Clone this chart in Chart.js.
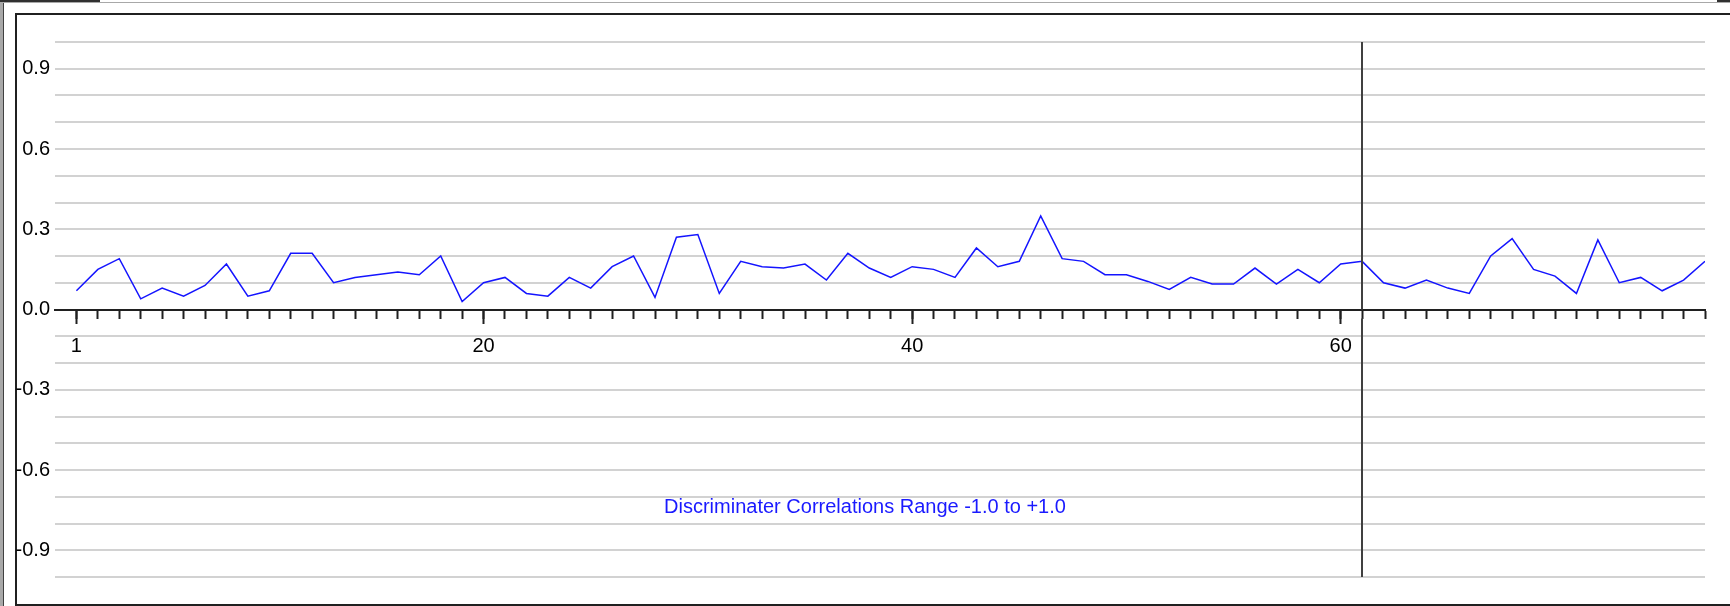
<!DOCTYPE html>
<html lang="en">
<head>
    <meta charset="UTF-8">
    <title>Discriminater Correlations</title>
    <script src="https://cdn.jsdelivr.net/npm/chart.js"></script>
    <style>
        html, body { margin: 0; padding: 0; background: #ffffff; }
        body { width: 1730px; height: 606px; position: relative; overflow: hidden; }
        .edgeLeft { position: absolute; left: 0; top: 0; width: 3px; height: 606px; background: #a8a8a8; border-right: 1px solid #404040; }
        .edgeTop { position: absolute; left: 0; top: 2px; width: 1730px; height: 1px; background: #a8a8a8; }
        .tabTop { position: absolute; left: 0; top: 0; width: 100px; height: 2px; background: #303030; }
        .tabRight { position: absolute; left: 1717px; top: 0; width: 13px; height: 2px; background: #303030; }
        .frame { position: absolute; left: 15px; top: 13px; width: 1715px; height: 589px; border-top: 2px solid #202020; border-left: 2px solid #202020; border-bottom: 2px solid #202020; }
        #chartBox { position: absolute; left: 0; top: 0; width: 1730px; height: 606px; }
    </style>
</head>
<body>
    <div class="edgeLeft"></div>
    <div class="edgeTop"></div>
    <div class="tabTop"></div>
    <div class="tabRight"></div>
    <div class="frame"></div>
    <div id="chartBox">
        <canvas id="corrChart" width="1730" height="606"></canvas>
    </div>

    <script>
        // values, one per position 1..77
        const positions = [
            1, 2, 3, 4, 5, 6, 7, 8, 9, 10, 11, 12, 13, 14, 15, 16, 17, 18, 19, 20,
            21, 22, 23, 24, 25, 26, 27, 28, 29, 30, 31, 32, 33, 34, 35, 36, 37, 38, 39, 40,
            41, 42, 43, 44, 45, 46, 47, 48, 49, 50, 51, 52, 53, 54, 55, 56, 57, 58, 59, 60,
            61, 62, 63, 64, 65, 66, 67, 68, 69, 70, 71, 72, 73, 74, 75, 76, 77
        ];
        const correlations = [
            0.07, 0.15, 0.19, 0.04, 0.08, 0.05, 0.09, 0.17, 0.05, 0.07,
            0.21, 0.21, 0.10, 0.12, 0.13, 0.14, 0.13, 0.20, 0.03, 0.10,
            0.12, 0.06, 0.05, 0.12, 0.08, 0.16, 0.20, 0.045, 0.27, 0.28,
            0.06, 0.18, 0.16, 0.155, 0.17, 0.11, 0.21, 0.155, 0.12, 0.16,
            0.15, 0.12, 0.23, 0.16, 0.18, 0.35, 0.19, 0.18, 0.13, 0.13,
            0.105, 0.075, 0.12, 0.095, 0.095, 0.155, 0.095, 0.15, 0.10, 0.17,
            0.18, 0.10, 0.08, 0.11, 0.08, 0.06, 0.20, 0.265, 0.15, 0.125,
            0.06, 0.26, 0.10, 0.12, 0.07, 0.11, 0.18
        ];
        const labelledPositions = [1, 20, 40, 60];
        const yLabels = [0.9, 0.6, 0.3, 0.0, -0.3, -0.6, -0.9];
        const markerAt = 61;
        const caption = 'Discriminater Correlations Range -1.0 to +1.0';
        const captionAt = { x: 37.8, y: -0.74 };

        document.addEventListener('DOMContentLoaded', function () {
            const font = { family: "'Liberation Sans', Arial, sans-serif", size: 20 };

            const markerPlugin = {
                id: 'marker',
                afterDatasetsDraw(chart) {
                    const ctx = chart.ctx;
                    const x = chart.scales.x;
                    const y = chart.scales.y;
                    const area = chart.chartArea;
                    const px = Math.round(x.getPixelForValue(markerAt));
                    const zero = y.getPixelForValue(0);
                    ctx.save();
                    ctx.strokeStyle = '#404040';
                    ctx.lineWidth = 2;
                    ctx.beginPath();
                    ctx.moveTo(px, area.top);
                    ctx.lineTo(px, zero);
                    ctx.moveTo(px, zero + 9);
                    ctx.lineTo(px, area.bottom);
                    ctx.stroke();

                    ctx.fillStyle = '#1a1aff';
                    ctx.font = font.size + 'px ' + font.family;
                    ctx.textAlign = 'center';
                    ctx.textBaseline = 'middle';
                    ctx.fillText(caption, x.getPixelForValue(captionAt.x), y.getPixelForValue(captionAt.y));
                    ctx.restore();
                }
            };

            const points = positions.map((p, i) => ({ x: p, y: correlations[i] }));

            new Chart(document.getElementById('corrChart'), {
                type: 'line',
                data: {
                    datasets: [{
                        data: points,
                        borderColor: '#1414ff',
                        borderWidth: 1.5,
                        pointRadius: 0,
                        tension: 0,
                        xAxisID: 'x',
                        yAxisID: 'y'
                    }]
                },
                options: {
                    responsive: false,
                    animation: false,
                    events: [],
                    layout: { padding: { top: 42, bottom: 29, left: 0, right: 25 } },
                    plugins: {
                        legend: { display: false },
                        tooltip: { enabled: false }
                    },
                    scales: {
                        y: {
                            type: 'linear',
                            position: 'left',
                            min: -1,
                            max: 1,
                            afterFit: scale => { scale.width = 55; },
                            ticks: {
                                stepSize: 0.1,
                                autoSkip: false,
                                padding: 5,
                                color: '#000000',
                                font: font,
                                callback: v => yLabels.some(l => Math.abs(l - v) < 1e-6) ? v.toFixed(1) : ''
                            },
                            grid: {
                                color: ctx => Math.abs(ctx.tick.value) < 1e-6 ? 'rgba(0,0,0,0)' : '#d2d2d2',
                                lineWidth: 2,
                                drawTicks: false
                            },
                            border: { display: false }
                        },
                        x: {
                            type: 'linear',
                            position: { y: 0 },
                            min: 0,
                            max: 77,
                            afterBuildTicks: scale => { scale.ticks = scale.ticks.filter(t => t.value >= 1); },
                            ticks: { stepSize: 1, display: false },
                            grid: {
                                drawOnChartArea: false,
                                tickLength: 8,
                                tickColor: '#202020',
                                tickWidth: 2
                            },
                            border: { display: true, color: '#202020', width: 2 }
                        },
                        xMajor: {
                            type: 'linear',
                            axis: 'x',
                            position: { y: 0 },
                            min: 0,
                            max: 77,
                            afterBuildTicks: scale => { scale.ticks = labelledPositions.map(v => ({ value: v })); },
                            ticks: {
                                autoSkip: false,
                                maxRotation: 0,
                                padding: 11,
                                color: '#000000',
                                font: font,
                                callback: v => String(v)
                            },
                            grid: {
                                drawOnChartArea: false,
                                tickLength: 14,
                                tickColor: '#202020',
                                tickWidth: 2
                            },
                            border: { display: false }
                        }
                    }
                },
                plugins: [markerPlugin]
            });
        });
    </script>
</body>
</html>
